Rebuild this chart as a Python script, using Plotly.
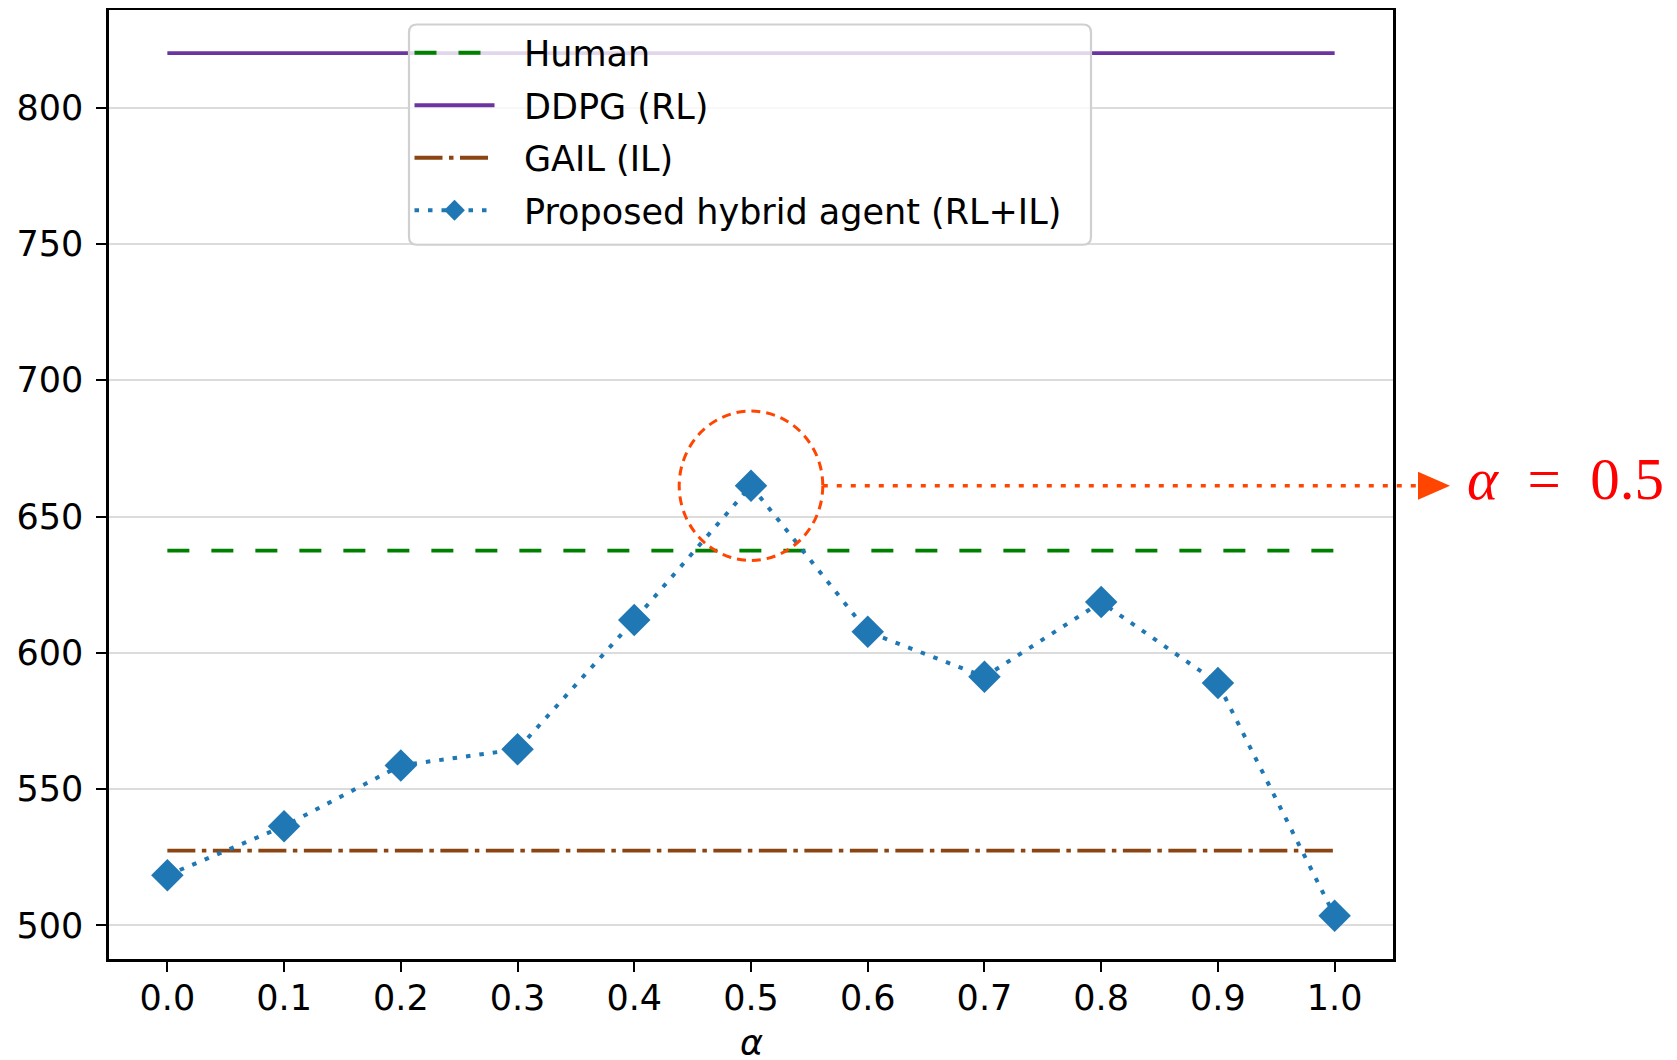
import plotly.graph_objects as go

alpha = [0.0, 0.1, 0.2, 0.3, 0.4, 0.5, 0.6, 0.7, 0.8, 0.9, 1.0]
alpha_labels = ["0.0", "0.1", "0.2", "0.3", "0.4", "0.5", "0.6", "0.7", "0.8", "0.9", "1.0"]
proposed = [518.4, 536.4, 558.7, 564.6, 612.0, 661.3, 607.7, 591.2, 618.6, 588.9, 503.5]
human_level = 637.5
ddpg_level = 820.0
gail_level = 527.4
y_ticks = [500, 550, 600, 650, 700, 750, 800]
best_alpha = 0.5
best_value = 661.3

FONT = "DejaVu Sans"
FS = 35
# page has an 8px body margin, so the figure is sized to fit the 1677x1060 window
W, H = 1669, 1052
ML, MR, MT, MB = 101, 284, 1.5, 100.5
PW = W - ML - MR
PH = H - MT - MB

# matplotlib-like 5% margins
xmin, xmax = alpha[0] - 0.05 * (alpha[-1] - alpha[0]), alpha[-1] + 0.05 * (alpha[-1] - alpha[0])
all_y = proposed + [human_level, ddpg_level, gail_level]
span = max(all_y) - min(all_y)
ymin, ymax = min(all_y) - 0.05 * span, max(all_y) + 0.05 * span

SP = "\u2002\u2009"
fig = go.Figure()
fig.add_trace(go.Scatter(x=[alpha[0], alpha[-1]], y=[human_level] * 2, mode="lines", name=SP + "Human",
                         legendgroup="a",
                         line=dict(color="#008000", width=3.8, dash="22px,22px")))
fig.add_trace(go.Scatter(x=[alpha[0], alpha[-1]], y=[ddpg_level] * 2, mode="lines", name=SP + "DDPG (RL)",
                         legendgroup="b",
                         line=dict(color="#6a35a0", width=3.8)))
fig.add_trace(go.Scatter(x=[alpha[0], alpha[-1]], y=[gail_level] * 2, mode="lines", name=SP + "GAIL (IL)",
                         legendgroup="c",
                         line=dict(color="#8b4513", width=3.8, dash="28px,6.5px,4.5px,6.5px")))
fig.add_trace(go.Scatter(x=alpha, y=proposed, mode="lines+markers", name=SP + "Proposed hybrid agent (RL+IL)",
                         legendgroup="d",
                         line=dict(color="#1f77b4", width=4, dash="4.5px,9px"),
                         marker=dict(symbol="diamond", size=25, color="#1f77b4")))

# legend frame (rounded, semi-transparent like matplotlib)
def px_to_paper_x(px):
    return (px - ML) / PW

def px_to_paper_y(py):
    return 1 - (py - MT) / PH

lx0, lx1 = px_to_paper_x(401), px_to_paper_x(1083)
ly0, ly1 = px_to_paper_y(236.5), px_to_paper_y(16)
rxp, ryp = 8 / PW, 8 / PH
legend_path = (f"M {lx0 + rxp} {ly1} L {lx1 - rxp} {ly1} Q {lx1} {ly1} {lx1} {ly1 - ryp} "
               f"L {lx1} {ly0 + ryp} Q {lx1} {ly0} {lx1 - rxp} {ly0} "
               f"L {lx0 + rxp} {ly0} Q {lx0} {ly0} {lx0} {ly0 + ryp} "
               f"L {lx0} {ly1 - ryp} Q {lx0} {ly1} {lx0 + rxp} {ly1} Z")
fig.add_shape(type="path", xref="paper", yref="paper", path=legend_path,
              fillcolor="rgba(255,255,255,0.8)", line=dict(color="#d0d0d0", width=2.2), layer="above")

# highlight ellipse around best alpha
rx, ry = 0.0615, 27.4
fig.add_shape(type="circle", xref="x", yref="y",
              x0=best_alpha - rx, x1=best_alpha + rx,
              y0=best_value - ry, y1=best_value + ry,
              line=dict(color="#ff4500", width=3, dash="9px,6px"), layer="above")

def to_paper_x(v):
    return (v - xmin) / (xmax - xmin)

arrow_start = to_paper_x(best_alpha + rx)
arrow_base = px_to_paper_x(1410)
arrow_tip = px_to_paper_x(1442)
yc = best_value
half_h = 14 / PH * (ymax - ymin)
fig.add_shape(type="line", xref="paper", yref="y", x0=arrow_start, x1=arrow_base, y0=yc, y1=yc,
              line=dict(color="#ff4500", width=3.5, dash="5px,9px"), layer="above")
fig.add_shape(type="path", xref="paper", yref="y",
              path=f"M {arrow_base} {yc + half_h} L {arrow_tip} {yc} L {arrow_base} {yc - half_h} Z",
              fillcolor="#ff4500", line=dict(color="#ff4500", width=0), layer="above")
fig.add_annotation(xref="paper", yref="y", x=px_to_paper_x(1456.5), y=yc, xanchor="left", yanchor="middle",
                   yshift=7,
                   text="<i>α</i>&nbsp;&nbsp;=&nbsp;&nbsp;0.5", showarrow=False,
                   font=dict(family="Liberation Serif", size=59, color="#ff0000"))

# x-axis label (placed like matplotlib's, partly beyond the bottom edge)
fig.add_annotation(xref="paper", yref="paper", x=0.5, y=px_to_paper_y(1036), xanchor="center",
                   yanchor="middle", text="<i>α</i>", showarrow=False,
                   font=dict(family=FONT, size=FS, color="black"))

axis_common = dict(showline=True, linecolor="black", linewidth=2.5, mirror=True,
                   ticks="outside", ticklen=10, tickwidth=2, tickcolor="black",
                   tickfont=dict(family=FONT, size=FS, color="black"), zeroline=False,
                   automargin=False)

fig.update_xaxes(range=[xmin, xmax], tickvals=alpha, ticktext=alpha_labels, showgrid=False,
                 ticklabelstandoff=-4, **axis_common)
fig.update_yaxes(range=[ymin, ymax], tickvals=y_ticks, showgrid=True, gridcolor="#dcdcdc", gridwidth=1.5,
                 ticklabelstandoff=6, **axis_common)

fig.update_layout(
    width=W, height=H,
    margin=dict(l=ML, r=MR, t=MT, b=MB, autoexpand=False),
    paper_bgcolor="white", plot_bgcolor="white",
    font=dict(family=FONT, size=FS, color="black"),
    legend=dict(x=px_to_paper_x(401.5), y=px_to_paper_y(15), xanchor="left", yanchor="top",
                bgcolor="rgba(0,0,0,0)", borderwidth=0,
                font=dict(family=FONT, size=FS, color="black"),
                tracegroupgap=4, itemwidth=80),
)

fig.write_html("out.html")
